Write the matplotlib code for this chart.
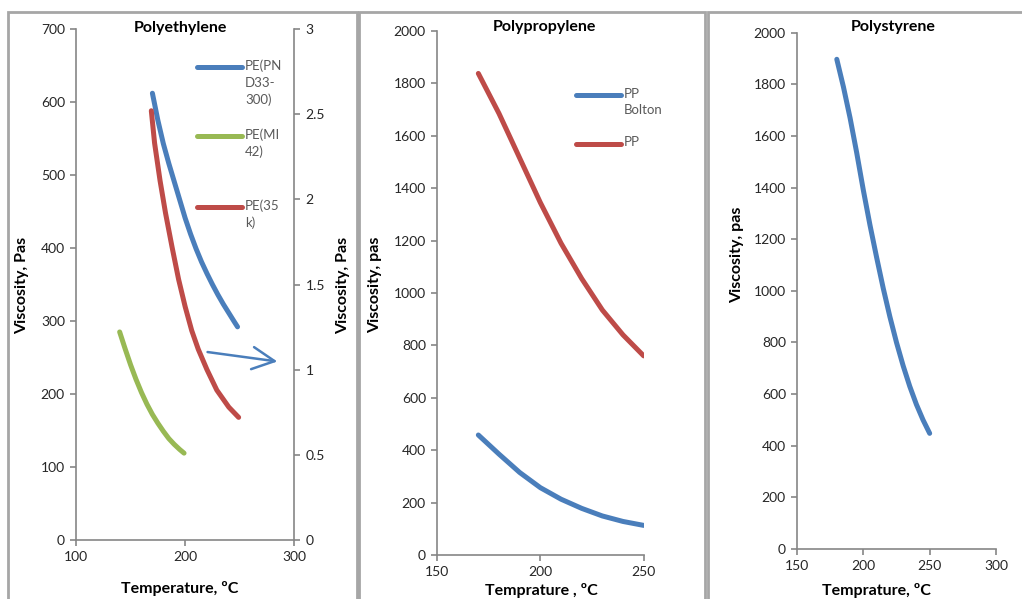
# Viscosity vs temperature for three polymers (PE, PP, PS)

import matplotlib.pyplot as plt
from matplotlib.patches import Rectangle
from matplotlib.lines import Line2D

plt.rcParams["font.family"] = ["Lato", "DejaVu Sans"]

# figure size in pixels, used to place things like the Excel original
W, H = 1022, 599

## DATA
# Polyethylene (left axis: blue + green, right axis: red)
pe_pnd_temp = [170, 175, 180, 185, 190, 195, 200, 205, 210, 215, 220, 225, 230, 235, 240, 245, 248]
pe_pnd_visc = [612, 575, 543, 516, 491, 466, 441, 419, 399, 381, 365, 350, 336, 323, 311, 299, 292]
pe_mi_temp = [140, 145, 150, 155, 160, 165, 170, 175, 180, 185, 190, 195, 199]
pe_mi_visc = [285, 262, 240, 220, 202, 186, 172, 160, 149, 139, 131, 124, 119]
pe_35k_temp = [169, 172, 177, 182, 188, 194, 200, 206, 212, 220, 229, 240, 249]
pe_35k_visc = [2.52, 2.33, 2.11, 1.92, 1.72, 1.53, 1.37, 1.23, 1.12, 1.00, 0.88, 0.78, 0.72]

# Polypropylene
pp_bolton_temp = [170, 180, 190, 200, 210, 220, 230, 240, 250]
pp_bolton_visc = [458, 385, 315, 257, 213, 178, 149, 128, 113]
pp_temp = [170, 180, 190, 200, 210, 220, 230, 240, 250]
pp_visc = [1838, 1685, 1515, 1345, 1190, 1055, 935, 840, 760]

# Polystyrene
ps_temp = [180, 185, 190, 195, 200, 205, 210, 215, 220, 225, 230, 235, 240, 245, 250]
ps_visc = [1897, 1790, 1670, 1535, 1390, 1255, 1130, 1010, 900, 800, 710, 630, 560, 500, 448]

# wrapped legend labels as in the original
pe_labels = ["PE(PN\nD33-\n300)", "PE(MI\n42)", "PE(35\nk)"]
pp_labels = ["PP\nBolton", "PP"]

BLUE = "#4a7ebb"
GREEN = "#98b954"
RED = "#be4b48"
AXC = "#868686"
TXT = "#262626"
LW = 3.6


def fx(px):
    return px / W


def fy(py):
    return 1 - py / H


def make_axes(fig, left, right, top, bottom):
    ax = fig.add_axes([fx(left), fy(bottom), fx(right) - fx(left), fy(top) - fy(bottom)])
    for s in ["top", "right"]:
        ax.spines[s].set_visible(False)
    for s in ["left", "bottom"]:
        ax.spines[s].set_color(AXC)
        ax.spines[s].set_linewidth(1.2)
    ax.tick_params(direction="out", length=4, width=1.2, color=AXC,
                   labelsize=10, labelcolor=TXT, pad=4)
    return ax


def legend_entry(fig, x0, x1, y, color, label):
    fig.add_artist(Line2D([fx(x0), fx(x1)], [fy(y), fy(y)], color=color,
                          lw=LW, solid_capstyle="round"))
    fig.text(fx(x1 + 3), fy(y - 7.5), label, fontsize=9.5, color="#595959",
             va="top", ha="left", linespacing=1.45)


def bold_label(x, y, s, rot=0):
    fig.text(fx(x), fy(y), s, ha="center", va="center", rotation=rot,
             fontsize=11.5, fontweight="bold", color="black")


fig = plt.figure(figsize=(W / 100, H / 100), dpi=100)

# panel frames (gray boxes around each chart)
for l, r in [(8, 357), (359, 705), (708, 1030)]:
    fig.add_artist(Rectangle((fx(l), fy(640)), fx(r) - fx(l), fy(12) - fy(640),
                             fill=False, edgecolor="#a6a6a6", lw=2.0))

## POLYETHYLENE
ax1 = make_axes(fig, 76, 294.3, 29, 540)
ax1.plot(pe_pnd_temp, pe_pnd_visc, color=BLUE, lw=LW, solid_capstyle="round")
ax1.plot(pe_mi_temp, pe_mi_visc, color=GREEN, lw=LW, solid_capstyle="round")
ax1.set_xlim(100, 300)
ax1.set_ylim(0, 700)
ax1.set_xticks([100, 200, 300])
ax1.set_yticks(range(0, 701, 100))

ax1r = ax1.twinx()
ax1r.plot(pe_35k_temp, pe_35k_visc, color=RED, lw=LW, solid_capstyle="round")
ax1r.set_ylim(0, 3)
ax1r.set_yticks([0, 0.5, 1, 1.5, 2, 2.5, 3])
ax1r.set_yticklabels(["0", "0.5", "1", "1.5", "2", "2.5", "3"])
for s in ["top", "left", "bottom"]:
    ax1r.spines[s].set_visible(False)
ax1r.spines["right"].set_color(AXC)
ax1r.spines["right"].set_linewidth(1.2)
ax1r.tick_params(direction="out", length=4, width=1.2, color=AXC,
                 labelsize=10, labelcolor=TXT, pad=4)

# arrow: red curve belongs to the right axis
arrow_start = (218, 258)
arrow_end = (287, 244)
ax1.annotate("", xy=arrow_end, xytext=arrow_start, annotation_clip=False,
             arrowprops=dict(arrowstyle="->,head_length=1.0,head_width=0.5",
                             color=BLUE, lw=1.8, mutation_scale=16))

bold_label(180, 28, "Polyethylene")
bold_label(180, 588, "Temperature, \u00baC")
bold_label(22, 285, "Viscosity, Pas", 90)
bold_label(343, 285, "Viscosity, Pas", 90)

for y, c, lab in zip([67, 136, 207], [BLUE, GREEN, RED], pe_labels):
    legend_entry(fig, 197, 242, y, c, lab)

## POLYPROPYLENE
ax2 = make_axes(fig, 437, 643.7, 31, 555)
ax2.plot(pp_bolton_temp, pp_bolton_visc, color=BLUE, lw=LW, solid_capstyle="round")
ax2.plot(pp_temp, pp_visc, color=RED, lw=LW, solid_capstyle="round")
ax2.set_xlim(150, 250)
ax2.set_ylim(0, 2000)
ax2.set_xticks([150, 200, 250])
ax2.set_yticks(range(0, 2001, 200))

bold_label(544, 27, "Polypropylene")
bold_label(541, 590, "Temprature , \u00baC")
bold_label(375, 285, "Viscosity, pas", 90)

for y, c, lab in zip([95, 144], [BLUE, RED], pp_labels):
    legend_entry(fig, 576, 621, y, c, lab)

## POLYSTYRENE
ax3 = make_axes(fig, 797, 996, 32.7, 549)
ax3.plot(ps_temp, ps_visc, color=BLUE, lw=LW, solid_capstyle="round")
ax3.set_xlim(150, 300)
ax3.set_ylim(0, 2000)
ax3.set_xticks([150, 200, 250, 300])
ax3.set_yticks(range(0, 2001, 200))

bold_label(893, 27, "Polystyrene")
bold_label(876, 590, "Temprature, \u00baC")
bold_label(737, 255, "Viscosity, pas", 90)

fig.savefig("out.png", dpi=100)
